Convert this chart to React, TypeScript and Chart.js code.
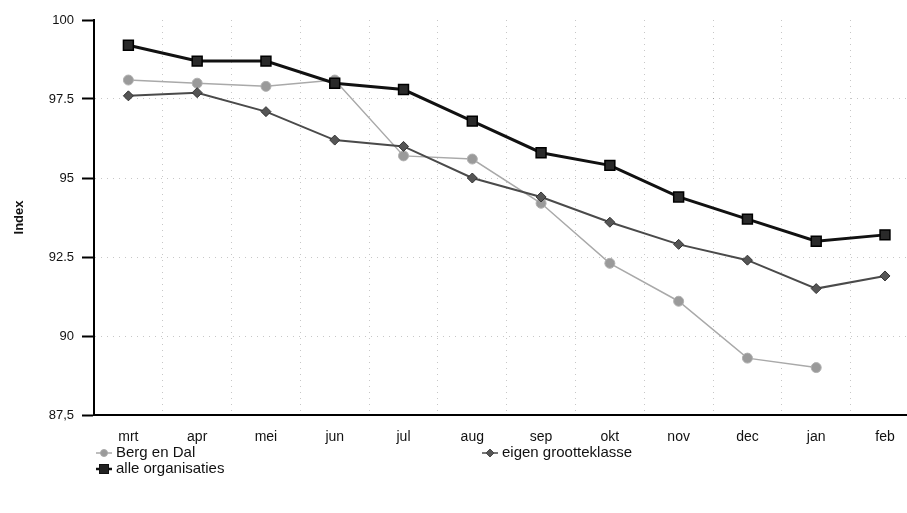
import React, { useEffect, useRef } from "react";
import { Chart, registerables } from "chart.js";

Chart.register(...registerables);

const months = ["mrt", "apr", "mei", "jun", "jul", "aug", "sep", "okt", "nov", "dec", "jan", "feb"];
const bergEnDal = [98.1, 98.0, 97.9, 98.1, 95.7, 95.6, 94.2, 92.3, 91.1, 89.3, 89.0, null];
const eigenGrootteklasse = [97.6, 97.7, 97.1, 96.2, 96.0, 95.0, 94.4, 93.6, 92.9, 92.4, 91.5, 91.9];
const alleOrganisaties = [99.2, 98.7, 98.7, 98.0, 97.8, 96.8, 95.8, 95.4, 94.4, 93.7, 93.0, 93.2];
const yTicks = [87.5, 90, 92.5, 95, 97.5, 100];
const yTickLabels = ["87,5", "90", "92.5", "95", "97.5", "100"];

const FONT = "'Liberation Sans', Arial, Helvetica, sans-serif";

function LegendIcon({ kind, color }: { kind: string; color: string }) {
  return (
    <svg width="16" height="12" style={{ marginRight: 4, verticalAlign: "middle" }}>
      <line x1="0" y1="6" x2="16" y2="6" stroke={color} strokeWidth={kind === "rect" ? 2.5 : 1.5} />
      {kind === "circle" && <circle cx="8" cy="6" r="3.5" fill="#9a9a9a" stroke={color} />}
      {kind === "rect" && <rect x="3.5" y="1.5" width="9" height="9" fill="#222" stroke={color} />}
      {kind === "diamond" && <polygon points="8,2 12,6 8,10 4,6" fill="#555" stroke={color} />}
    </svg>
  );
}

export default function App() {
  const ref = useRef<HTMLCanvasElement>(null);
  useEffect(() => {
    document.body.style.margin = "0";
    Chart.defaults.font.family = FONT;
    Chart.defaults.font.size = 13;
    Chart.defaults.color = "#111";
    const chart = new Chart(ref.current as HTMLCanvasElement, {
      type: "line",
      data: {
        datasets: [
          {
            label: "Berg en Dal",
            data: bergEnDal.map((v, i) => ({ x: i, y: v as any })),
            borderColor: "#a9a9a9",
            backgroundColor: "#9a9a9a",
            borderWidth: 1.5,
            pointStyle: "circle",
            pointRadius: 5,
            pointBorderColor: "#b0b0b0",
            pointBorderWidth: 1,
            spanGaps: false,
            order: 3,
          },
          {
            label: "eigen grootteklasse",
            data: eigenGrootteklasse.map((v, i) => ({ x: i, y: v })),
            borderColor: "#4a4a4a",
            backgroundColor: "#555",
            borderWidth: 2,
            pointStyle: "rectRot",
            pointRadius: 5,
            pointBorderColor: "#333",
            pointBorderWidth: 1,
            order: 2,
          },
          {
            label: "alle organisaties",
            data: alleOrganisaties.map((v, i) => ({ x: i, y: v })),
            borderColor: "#111",
            backgroundColor: "#2a2a2a",
            borderWidth: 3,
            pointStyle: "rect",
            pointRadius: 7,
            pointBorderColor: "#000",
            pointBorderWidth: 1.5,
            order: 1,
          },
        ],
      },
      options: {
        responsive: false,
        animation: false,
        layout: { autoPadding: false, padding: { top: 20, right: 0, bottom: 0, left: 0 } },
        plugins: { legend: { display: false }, tooltip: { enabled: false } },
        scales: {
          x: {
            type: "linear",
            min: -0.5,
            max: 11.32,
            afterBuildTicks: (s: any) => {
              s.ticks = months.map((_, i) => ({ value: i }));
            },
            afterFit: (s: any) => {
              s.height = 98;
              s.paddingRight = 0;
              s.paddingLeft = 0;
            },
            ticks: {
              callback: (v: any) => months[v as number] ?? "",
              padding: 14,
              maxRotation: 0,
              autoSkip: false,
              color: "#111",
              font: { size: 14 },
            },
            grid: {
              offset: true,
              drawTicks: false,
              color: "rgba(0,0,0,0.22)",
              lineWidth: 1,
            } as any,
            border: { display: true, color: "#000", width: 2, dash: [1, 5] },
          },
          y: {
            type: "linear",
            min: 87.5,
            max: 100,
            afterBuildTicks: (s: any) => {
              s.ticks = yTicks.map((v) => ({ value: v }));
            },
            afterFit: (s: any) => {
              s.width = 94;
            },
            ticks: {
              callback: (v: any) => yTickLabels[yTicks.indexOf(v as number)] ?? "",
              padding: 8,
              color: "#111",
              font: { size: 13 },
            },
            grid: {
              drawTicks: true,
              tickLength: 12,
              tickColor: "#000",
              tickWidth: 2,
              tickBorderDash: [],
              color: (ctx: any) => (ctx.tick && (ctx.tick.value === 100 || ctx.tick.value === 87.5) ? "rgba(0,0,0,0)" : "rgba(0,0,0,0.22)"),
              lineWidth: 1,
            } as any,
            border: { display: true, color: "#000", width: 2, dash: [1, 5] },
            title: {
              display: true,
              text: "Index",
              font: { size: 13, weight: "bold" },
              color: "#111",
              padding: { top: 12, bottom: 0 },
            },
          },
        },
      },
    });
    return () => chart.destroy();
  }, []);

  const legendText: React.CSSProperties = {
    position: "absolute",
    fontFamily: FONT,
    fontSize: 15,
    color: "#111",
    lineHeight: "16px",
    whiteSpace: "nowrap",
  };

  return (
    <div style={{ position: "relative", width: 907, height: 513 }}>
      <canvas ref={ref} width={907} height={513} />
      <div style={{ ...legendText, left: 96, top: 444 }}>
        <LegendIcon kind="circle" color="#a9a9a9" />
        Berg en Dal
      </div>
      <div style={{ ...legendText, left: 482, top: 444 }}>
        <LegendIcon kind="diamond" color="#4a4a4a" />
        eigen grootteklasse
      </div>
      <div style={{ ...legendText, left: 96, top: 460 }}>
        <LegendIcon kind="rect" color="#111" />
        alle organisaties
      </div>
    </div>
  );
}
